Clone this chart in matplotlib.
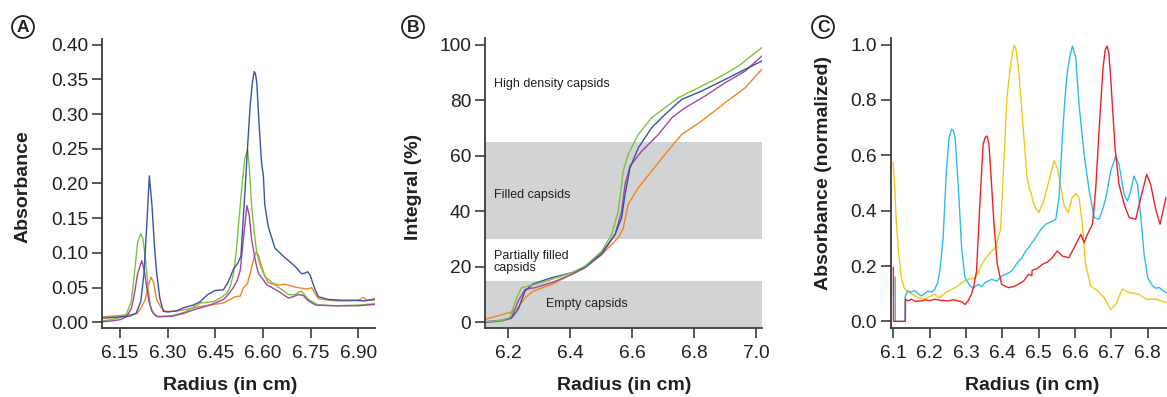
import matplotlib
matplotlib.use('Agg')
import matplotlib.pyplot as plt

plt.rcParams['font.family'] = ['Liberation Sans', 'DejaVu Sans']

TXT = '#231f20'
SPINE = '#3c3c3c'

# ---- panel A: absorbance scans ----
a_blue_x = [6.093, 6.12, 6.15, 6.18, 6.20, 6.215, 6.225, 6.235, 6.242, 6.25, 6.258, 6.265, 6.275, 6.286,
            6.30, 6.33, 6.349, 6.38, 6.402, 6.425, 6.449, 6.475, 6.49, 6.506, 6.52, 6.53, 6.543, 6.552,
            6.559, 6.566, 6.572, 6.576, 6.580, 6.588, 6.595, 6.601, 6.605, 6.616, 6.637, 6.669, 6.700,
            6.721, 6.732, 6.740, 6.748, 6.753, 6.763, 6.774, 6.805, 6.85, 6.879, 6.92, 6.952]
a_blue_y = [0.006, 0.007, 0.008, 0.009, 0.013, 0.03, 0.07, 0.15, 0.211, 0.17, 0.11, 0.071, 0.035, 0.016,
            0.015, 0.017, 0.021, 0.025, 0.030, 0.040, 0.046, 0.047, 0.058, 0.076, 0.085, 0.095, 0.19, 0.26,
            0.311, 0.345, 0.361, 0.358, 0.345, 0.28, 0.23, 0.21, 0.17, 0.138, 0.107, 0.093, 0.081,
            0.070, 0.071, 0.073, 0.068, 0.061, 0.048, 0.037, 0.033, 0.032, 0.032, 0.031, 0.034]

a_green_x = [6.093, 6.12, 6.15, 6.17, 6.185, 6.195, 6.205, 6.215, 6.222, 6.23, 6.238, 6.245, 6.25, 6.26,
             6.27, 6.30, 6.315, 6.34, 6.36, 6.38, 6.402, 6.443, 6.465, 6.486, 6.497, 6.507, 6.515, 6.522,
             6.532, 6.542, 6.551, 6.557, 6.564, 6.572, 6.580, 6.592, 6.606, 6.637, 6.66, 6.68, 6.70,
             6.715, 6.721, 6.73, 6.743, 6.774, 6.83, 6.90, 6.952]
a_green_y = [0.002, 0.004, 0.007, 0.012, 0.03, 0.07, 0.115, 0.128, 0.12, 0.09, 0.05, 0.025, 0.018, 0.011,
             0.009, 0.009, 0.010, 0.013, 0.016, 0.022, 0.028, 0.030, 0.035, 0.042, 0.052, 0.071, 0.10, 0.138,
             0.19, 0.235, 0.249, 0.22, 0.167, 0.13, 0.100, 0.08, 0.066, 0.054, 0.047, 0.040, 0.040,
             0.044, 0.045, 0.040, 0.033, 0.025, 0.024, 0.025, 0.027]

a_purple_x = [6.093, 6.12, 6.15, 6.17, 6.185, 6.192, 6.205, 6.218, 6.226, 6.234, 6.242, 6.25, 6.26, 6.27,
              6.315, 6.35, 6.38, 6.433, 6.475, 6.49, 6.506, 6.518, 6.528, 6.538, 6.549, 6.556, 6.564,
              6.575, 6.585, 6.612, 6.648, 6.68, 6.70, 6.711, 6.726, 6.74, 6.765, 6.83, 6.90, 6.952]
a_purple_y = [0.001, 0.002, 0.004, 0.008, 0.02, 0.033, 0.07, 0.089, 0.075, 0.05, 0.028, 0.016, 0.010, 0.008,
              0.009, 0.013, 0.018, 0.025, 0.033, 0.04, 0.05, 0.06, 0.075, 0.12, 0.168, 0.155, 0.119,
              0.09, 0.071, 0.054, 0.045, 0.035, 0.038, 0.040, 0.039, 0.032, 0.025, 0.024, 0.024, 0.026]

a_orange_x = [6.093, 6.12, 6.15, 6.18, 6.203, 6.215, 6.229, 6.24, 6.247, 6.255, 6.265, 6.278, 6.291, 6.32,
              6.349, 6.402, 6.475, 6.512, 6.528, 6.538, 6.55, 6.562, 6.572, 6.578, 6.585, 6.595, 6.605,
              6.616, 6.648, 6.669, 6.70, 6.737, 6.753, 6.76, 6.774, 6.827, 6.879, 6.905, 6.915, 6.926, 6.952]
a_orange_y = [0.008, 0.009, 0.010, 0.011, 0.013, 0.020, 0.033, 0.055, 0.065, 0.058, 0.033, 0.022, 0.016, 0.016,
              0.018, 0.023, 0.028, 0.037, 0.038, 0.050, 0.055, 0.075, 0.095, 0.101, 0.097, 0.081, 0.068,
              0.057, 0.054, 0.055, 0.051, 0.048, 0.050, 0.044, 0.034, 0.031, 0.031, 0.033, 0.036, 0.032, 0.032]

a_xticks = [6.15, 6.30, 6.45, 6.60, 6.75, 6.90]
a_yticks = [0.00, 0.05, 0.10, 0.15, 0.20, 0.25, 0.30, 0.35, 0.40]

# ---- panel B: integrals ----
b_green_x = [6.125, 6.18, 6.205, 6.227, 6.243, 6.286, 6.34, 6.405, 6.448, 6.502, 6.534, 6.555, 6.566,
             6.571, 6.587, 6.62, 6.663, 6.706, 6.749, 6.814, 6.878, 6.943, 7.018]
b_green_y = [0.2, 0.8, 1.7, 8.9, 12.5, 13.7, 15.5, 17.9, 20.3, 25.7, 31.7, 40.1, 49.7,
             54.5, 60.5, 67.7, 73.7, 77.3, 80.9, 84.5, 88.1, 92.3, 98.9]

b_blue_x = [6.125, 6.18, 6.211, 6.232, 6.254, 6.281, 6.34, 6.405, 6.448, 6.502, 6.545, 6.566, 6.577,
            6.593, 6.62, 6.663, 6.706, 6.76, 6.824, 6.9, 7.018]
b_blue_y = [0.2, 0.8, 1.7, 4.7, 11.3, 13.9, 16.1, 17.9, 19.9, 25.1, 31.7, 37.7, 46.1,
            55.7, 62.9, 70.1, 74.9, 80.3, 83.3, 87.5, 94.1]

b_purple_x = [6.125, 6.18, 6.21, 6.232, 6.254, 6.286, 6.34, 6.405, 6.448, 6.502, 6.545, 6.566, 6.577,
              6.593, 6.631, 6.685, 6.728, 6.771, 6.835, 6.9, 6.965, 7.018]
b_purple_y = [0.0, 0.6, 1.5, 7.7, 11.9, 12.5, 14.3, 17.3, 19.7, 24.5, 31.7, 40.1, 49.7,
              56.3, 61.7, 67.7, 73.7, 77.3, 81.5, 86.3, 90.5, 95.9]

b_orange_x = [6.125, 6.17, 6.211, 6.232, 6.254, 6.281, 6.34, 6.405, 6.448, 6.502, 6.555, 6.571, 6.587,
              6.62, 6.663, 6.706, 6.76, 6.824, 6.9, 6.965, 7.018]
b_orange_y = [1.1, 2.5, 3.8, 5.3, 8.9, 11.3, 13.7, 17.3, 19.9, 24.5, 30.5, 33.8, 42.5,
              48.5, 54.5, 60.5, 67.7, 72.5, 79.1, 84.5, 91.1]

b_bands = [(-2.0, 15.0), (30.0, 65.0)]
b_labels = ['High density capsids', 'Filled capsids', 'Partially filled\ncapsids', 'Empty capsids']
b_label_pos = [(6.153, 85.7), (6.153, 45.9), (6.153, 21.8), (6.322, 6.5)]
b_xticks = [6.2, 6.4, 6.6, 6.8, 7.0]
b_yticks = [0, 20, 40, 60, 80, 100]

# ---- panel C: normalized absorbance ----
c_yellow_x = [6.0996, 6.104, 6.108, 6.115, 6.122, 6.13, 6.136, 6.148, 6.159, 6.17, 6.187, 6.2, 6.214, 6.225,
              6.233, 6.245, 6.260, 6.275, 6.288, 6.307, 6.325, 6.335, 6.343, 6.362, 6.38, 6.395, 6.404,
              6.413, 6.422, 6.428, 6.433, 6.438, 6.445, 6.454, 6.462, 6.468, 6.474, 6.479, 6.485, 6.491,
              6.500, 6.514, 6.528, 6.542, 6.551, 6.560, 6.569, 6.581, 6.592, 6.602, 6.611, 6.62, 6.629,
              6.643, 6.662, 6.68, 6.698, 6.712, 6.73, 6.749, 6.776, 6.795, 6.823, 6.85]
c_yellow_y = [0.574, 0.48, 0.363, 0.24, 0.158, 0.12, 0.110, 0.10, 0.092, 0.085, 0.080, 0.09, 0.098, 0.085,
              0.092, 0.105, 0.116, 0.125, 0.140, 0.152, 0.158, 0.18, 0.206, 0.242, 0.266, 0.331, 0.572,
              0.813, 0.92, 0.97, 0.999, 0.98, 0.905, 0.753, 0.62, 0.52, 0.48, 0.464, 0.43, 0.411,
              0.393, 0.435, 0.507, 0.580, 0.555, 0.495, 0.423, 0.393, 0.447, 0.462, 0.447, 0.351, 0.206,
              0.128, 0.110, 0.086, 0.043, 0.061, 0.116, 0.104, 0.098, 0.080, 0.080, 0.068]

c_cyan_x = [6.105, 6.1055, 6.132, 6.1325, 6.14, 6.15, 6.159, 6.168, 6.177, 6.186, 6.196, 6.205, 6.214,
            6.222, 6.228, 6.237, 6.246, 6.253, 6.260, 6.265, 6.270, 6.279, 6.288, 6.297, 6.311, 6.32,
            6.334, 6.343, 6.352, 6.371, 6.385, 6.398, 6.41, 6.426, 6.44, 6.454, 6.464, 6.472, 6.491,
            6.505, 6.519, 6.535, 6.547, 6.556, 6.565, 6.572, 6.579, 6.586, 6.593, 6.602, 6.611, 6.625,
            6.639, 6.653, 6.666, 6.675, 6.685, 6.698, 6.712, 6.721, 6.735, 6.744, 6.753, 6.762, 6.772,
            6.781, 6.79, 6.8, 6.813, 6.822, 6.832, 6.85]
c_cyan_y = [0.16, 0.0, 0.0, 0.09, 0.110, 0.105, 0.112, 0.10, 0.092, 0.10, 0.11, 0.105, 0.116,
            0.14, 0.182, 0.302, 0.543, 0.66, 0.694, 0.69, 0.664, 0.483, 0.266, 0.158, 0.128, 0.12,
            0.134, 0.125, 0.140, 0.152, 0.145, 0.164, 0.17, 0.182, 0.21, 0.230, 0.254, 0.266, 0.302,
            0.33, 0.351, 0.36, 0.369, 0.447, 0.664, 0.80, 0.905, 0.96, 0.995, 0.953, 0.784, 0.603,
            0.471, 0.375, 0.369, 0.40, 0.447, 0.543, 0.598, 0.567, 0.459, 0.435, 0.47, 0.525, 0.495,
            0.375, 0.242, 0.158, 0.128, 0.12, 0.122, 0.104]

c_red_x = [6.1, 6.1005, 6.133, 6.1335, 6.14, 6.15, 6.16, 6.177, 6.19, 6.2, 6.214, 6.23, 6.251, 6.265,
           6.279, 6.29, 6.297, 6.306, 6.315, 6.322, 6.329, 6.338, 6.347, 6.353, 6.358, 6.363, 6.368,
           6.377, 6.386, 6.398, 6.416, 6.43, 6.444, 6.458, 6.472, 6.481, 6.482, 6.495, 6.51, 6.525,
           6.537, 6.551, 6.565, 6.583, 6.602, 6.616, 6.625, 6.634, 6.648, 6.657, 6.666, 6.677, 6.683,
           6.688, 6.693, 6.698, 6.71, 6.721, 6.735, 6.749, 6.767, 6.781, 6.797, 6.808, 6.823, 6.834, 6.85]
c_red_y = [0.194, 0.0, 0.0, 0.08, 0.074, 0.08, 0.072, 0.074, 0.078, 0.075, 0.080, 0.076, 0.074, 0.078,
           0.074, 0.07, 0.061, 0.075, 0.098, 0.13, 0.182, 0.423, 0.640, 0.665, 0.670, 0.64, 0.543,
           0.351, 0.206, 0.134, 0.122, 0.125, 0.134, 0.145, 0.170, 0.165, 0.185, 0.19, 0.206, 0.215,
           0.230, 0.254, 0.236, 0.230, 0.278, 0.314, 0.284, 0.314, 0.351, 0.483, 0.688, 0.917, 0.98,
           0.995, 0.97, 0.881, 0.628, 0.495, 0.423, 0.375, 0.369, 0.447, 0.531, 0.495, 0.399, 0.351, 0.447]

c_xticks = [6.1, 6.2, 6.3, 6.4, 6.5, 6.6, 6.7, 6.8]
c_yticks = [0.0, 0.2, 0.4, 0.6, 0.8, 1.0]

W, H = 1167, 397


def px_axes(fig, left, top, right, bottom):
    return fig.add_axes([left / W, 1 - bottom / H, (right - left) / W, (bottom - top) / H])


def style_axes(ax, xticks, yticks, xfmt, yfmt):
    for s in ['top', 'right']:
        ax.spines[s].set_visible(False)
    for s in ['left', 'bottom']:
        ax.spines[s].set_color(SPINE)
        ax.spines[s].set_linewidth(1.3)
    ax.set_xticks(xticks)
    ax.set_yticks(yticks)
    ax.set_xticklabels([xfmt % t for t in xticks])
    ax.set_yticklabels([yfmt % t for t in yticks])
    ax.tick_params(direction='out', length=7, width=1.2, color=SPINE, labelsize=13.8,
                   labelcolor=TXT)
    ax.tick_params(axis='x', pad=5)
    ax.tick_params(axis='y', pad=3)


def panel_letter(fig, x, y, letter):
    fig.text(x / W, 1 - y / H, letter, ha='center', va='center', fontsize=12.5,
             fontweight='bold', color=TXT,
             bbox=dict(boxstyle='circle,pad=0.2', fc='white', ec=TXT, lw=1.3))


def axis_labels(fig, xl, xlab, yl, ylab):
    fig.text(xl[0] / W, 1 - xl[1] / H, xlab, ha='center', va='center', fontsize=14,
             fontweight='bold', color=TXT)
    fig.text(yl[0] / W, 1 - yl[1] / H, ylab, ha='center', va='center', fontsize=14,
             fontweight='bold', color=TXT, rotation=90)


fig = plt.figure(figsize=(W / 100, H / 100), dpi=100)

# A
ax = px_axes(fig, 102, 39, 375, 328)
lw = 1.0
ax.plot(a_orange_x, a_orange_y, color='#f58220', lw=lw)
ax.plot(a_green_x, a_green_y, color='#7cc242', lw=lw)
ax.plot(a_purple_x, a_purple_y, color='#a3479b', lw=lw)
ax.plot(a_blue_x, a_blue_y, color='#3953a4', lw=lw)
ax.set_xlim(6.093, 6.952)
ax.set_ylim(-0.008, 0.408)
style_axes(ax, a_xticks, a_yticks, '%.2f', '%.2f')
panel_letter(fig, 23, 27, 'A')
axis_labels(fig, (230, 386), 'Radius (in cm)', (23, 187), 'Absorbance')

# B
ax = px_axes(fig, 485, 38, 762, 328)
for lo, hi in b_bands:
    ax.axhspan(lo, hi, color='#d1d3d4', lw=0, zorder=0)
for (tx, ty), lab in zip(b_label_pos, b_labels):
    ax.text(tx, ty, lab, ha='left', va='center', fontsize=9, color=TXT, linespacing=1.0)
ax.plot(b_orange_x, b_orange_y, color='#f58220', lw=lw)
ax.plot(b_purple_x, b_purple_y, color='#a3479b', lw=lw)
ax.plot(b_blue_x, b_blue_y, color='#3953a4', lw=lw)
ax.plot(b_green_x, b_green_y, color='#7cc242', lw=lw)
ax.set_xlim(6.125, 7.019)
ax.set_ylim(-2.0, 102.4)
style_axes(ax, b_xticks, b_yticks, '%.1f', '%d')
panel_letter(fig, 413, 27, 'B')
axis_labels(fig, (624, 386), 'Radius (in cm)', (413, 187), 'Integral (%)')

# C
ax = px_axes(fig, 891, 38, 1167, 328)
ax.plot(c_yellow_x, c_yellow_y, color='#f0c814', lw=lw)
ax.plot(c_cyan_x, c_cyan_y, color='#2ebbef', lw=lw)
ax.plot(c_red_x, c_red_y, color='#ed2124', lw=lw)
ax.set_xlim(6.0936, 6.853)
ax.set_ylim(-0.024, 1.024)
style_axes(ax, c_xticks, c_yticks, '%.1f', '%.1f')
panel_letter(fig, 823, 27, 'C')
axis_labels(fig, (1032, 386), 'Radius (in cm)', (823, 173), 'Absorbance (normalized)')

fig.savefig('out.png', dpi=100)
